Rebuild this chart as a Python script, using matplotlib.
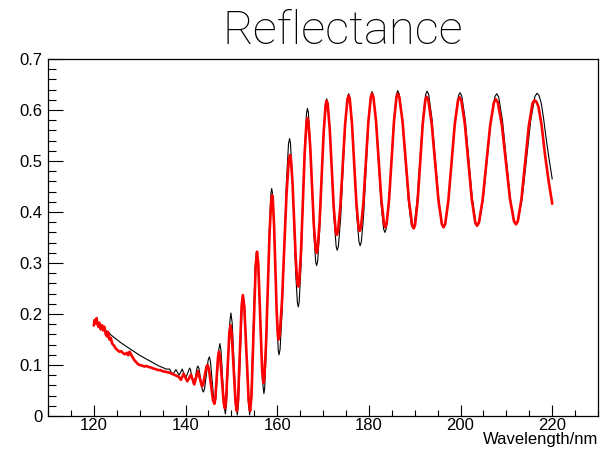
import matplotlib
matplotlib.use("Agg")
import matplotlib.pyplot as plt
from matplotlib.ticker import MultipleLocator

# ---- data ----
theory_wl = [
    120.0, 121.0, 122.0, 123.0, 124.0, 125.0, 126.0, 127.0, 128.0, 129.0,
    130.0, 131.0, 132.0, 133.0, 134.0, 135.0, 135.8,
    136.5, 136.85, 137.2, 137.55, 137.9, 138.25, 138.6, 138.95, 139.3, 139.65,
    140.0, 140.45, 140.9, 141.08, 141.35, 141.62, 141.8, 141.98, 142.25, 142.52,
    142.7, 142.94, 143.3, 143.66, 143.9, 144.16, 144.55, 144.94,
    145.2, 145.44, 145.8, 146.16, 146.4, 146.62, 146.95, 147.28,
    147.5, 147.74, 148.1, 148.46, 148.7, 148.94, 149.3, 149.66,
    149.9, 150.18, 150.6, 151.02, 151.3, 151.56, 151.95, 152.34,
    152.6, 152.88, 153.3, 153.72, 154.0, 154.3, 154.75, 155.2,
    155.5, 155.82, 156.3, 156.78, 157.1,
    157.27, 157.61, 157.95, 158.29, 158.63, 158.8,
    158.96, 159.28, 159.6, 159.92, 160.24, 160.4,
    160.63, 161.09, 161.55, 162.01, 162.47, 162.7,
    162.89, 163.27, 163.65, 164.03, 164.41, 164.6,
    164.8, 165.2, 165.6, 166.0, 166.4, 166.6,
    166.8, 167.2, 167.6, 168.0, 168.4, 168.6,
    168.82, 169.26, 169.7, 170.14, 170.58, 170.8,
    171.03, 171.49, 171.95, 172.41, 172.87, 173.1,
    173.35, 173.85, 174.35, 174.85, 175.35, 175.6,
    175.85, 176.35, 176.85, 177.35, 177.85, 178.1,
    178.36, 178.88, 179.4, 179.92, 180.44, 180.7,
    180.98, 181.54, 182.1, 182.66, 183.22, 183.5,
    183.78, 184.34, 184.9, 185.46, 186.02, 186.3,
    186.63, 187.29, 187.95, 188.61, 189.27, 189.6,
    189.91, 190.53, 191.15, 191.77, 192.39, 192.7,
    193.06, 193.78, 194.5, 195.22, 195.94, 196.3,
    196.66, 197.38, 198.1, 198.82, 199.54, 199.9,
    200.28, 201.04, 201.8, 202.56, 203.32, 203.7,
    204.12, 204.96, 205.8, 206.64, 207.48, 207.9,
    208.32, 209.16, 210.0, 210.84, 211.68, 212.1,
    212.56, 213.48, 214.4, 215.32, 216.24, 216.7,
    217.1, 217.6, 218.1, 218.6, 219.3, 220.0,
]
theory_refl = [
    0.188, 0.180, 0.172, 0.165, 0.157, 0.150, 0.143, 0.137, 0.131, 0.125,
    0.119, 0.114, 0.109, 0.104, 0.099, 0.095, 0.092,
    0.092, 0.0865, 0.081, 0.086, 0.091, 0.0855, 0.080, 0.086, 0.092, 0.0825,
    0.073, 0.0835, 0.094, 0.0911, 0.079, 0.0669, 0.064, 0.0672, 0.081, 0.0948,
    0.098, 0.0932, 0.0725, 0.0518, 0.047, 0.0536, 0.0815, 0.1094,
    0.116, 0.1073, 0.070, 0.0327, 0.024, 0.0352, 0.083, 0.1308,
    0.142, 0.1289, 0.073, 0.0171, 0.004, 0.0228, 0.103, 0.1832,
    0.202, 0.183, 0.102, 0.021, 0.002, 0.0243, 0.1195, 0.2147,
    0.237, 0.2147, 0.1195, 0.0243, 0.002, 0.0325, 0.1625, 0.2925,
    0.323, 0.2965, 0.1835, 0.0705, 0.044,
    0.0538, 0.1268, 0.245, 0.3632, 0.4362, 0.446,
    0.438, 0.3788, 0.283, 0.1872, 0.128, 0.120,
    0.1304, 0.2073, 0.332, 0.4567, 0.5336, 0.544,
    0.5359, 0.476, 0.379, 0.282, 0.2221, 0.214,
    0.2235, 0.2941, 0.4085, 0.5229, 0.5935, 0.603,
    0.5955, 0.5396, 0.449, 0.3584, 0.3025, 0.295,
    0.303, 0.3624, 0.4585, 0.5546, 0.614, 0.622,
    0.6147, 0.5608, 0.4735, 0.3862, 0.3323, 0.325,
    0.3325, 0.3882, 0.4785, 0.5688, 0.6245, 0.632,
    0.6247, 0.5706, 0.483, 0.3954, 0.3413, 0.334,
    0.3414, 0.3962, 0.485, 0.5738, 0.6286, 0.636,
    0.6292, 0.5791, 0.498, 0.4169, 0.3668, 0.360,
    0.3668, 0.4173, 0.499, 0.5807, 0.6312, 0.638,
    0.6314, 0.5824, 0.503, 0.4236, 0.3746, 0.368,
    0.3746, 0.4234, 0.5025, 0.5816, 0.6304, 0.637,
    0.6305, 0.5822, 0.504, 0.4258, 0.3775, 0.371,
    0.3774, 0.4252, 0.5025, 0.5798, 0.6276, 0.634,
    0.6276, 0.5802, 0.5035, 0.4268, 0.3794, 0.373,
    0.3793, 0.4264, 0.5025, 0.5786, 0.6257, 0.632,
    0.6257, 0.5791, 0.5035, 0.4279, 0.3813, 0.375,
    0.3813, 0.4281, 0.504, 0.5799, 0.6267, 0.633,
    0.629, 0.614, 0.585, 0.550, 0.505, 0.465,
]

meas_wl = [
    120.0, 120.2, 120.4, 120.6, 120.8, 121.0, 121.2, 121.5, 121.8, 122.0,
    122.3, 122.6, 122.9, 123.1, 123.4, 123.7, 124.0, 124.4, 124.8, 125.2,
    125.6, 126.0, 126.4, 126.8, 127.2, 127.5, 127.8, 128.1, 128.4, 128.8,
    129.2, 129.6, 130.0, 130.5, 131.0, 131.5, 132.0, 132.5, 133.0, 133.5,
    134.0, 134.5, 135.0, 135.5, 136.0, 136.5, 137.0, 137.5, 138.0, 138.5,
    139.0, 139.3, 139.6, 140.0, 140.4, 140.8, 141.2, 141.55, 141.9, 142.3,
    142.7, 143.15, 143.6, 143.84, 144.2, 144.56,
    144.8, 145.1, 145.55, 146.0, 146.3, 146.5, 146.8, 147.1,
    147.3, 147.56, 147.95, 148.34, 148.6, 148.84, 149.2, 149.56,
    149.8, 150.08, 150.5, 150.92, 151.2, 151.46, 151.85, 152.24,
    152.5, 152.82, 153.3, 153.78, 154.1, 154.4, 154.85, 155.3,
    155.6, 155.88, 156.3, 156.72, 157.0,
    157.19, 157.57, 157.95, 158.33, 158.71, 158.9,
    159.04, 159.32, 159.6, 159.88, 160.16, 160.3,
    160.55, 161.05, 161.55, 162.05, 162.55, 162.8,
    162.98, 163.34, 163.7, 164.06, 164.42, 164.6,
    164.8, 165.2, 165.6, 166.0, 166.4, 166.6,
    166.8, 167.2, 167.6, 168.0, 168.4, 168.6,
    168.82, 169.26, 169.7, 170.14, 170.58, 170.8,
    171.02, 171.46, 171.9, 172.34, 172.78, 173.0,
    173.26, 173.78, 174.3, 174.82, 175.34, 175.6,
    175.84, 176.32, 176.8, 177.28, 177.76, 178.0,
    178.27, 178.81, 179.35, 179.89, 180.43, 180.7,
    180.99, 181.57, 182.15, 182.73, 183.31, 183.6,
    183.87, 184.41, 184.95, 185.49, 186.03, 186.3,
    186.65, 187.35, 188.05, 188.75, 189.45, 189.8,
    190.08, 190.64, 191.2, 191.76, 192.32, 192.6,
    192.97, 193.71, 194.45, 195.19, 195.93, 196.3,
    196.65, 197.35, 198.05, 198.75, 199.45, 199.8,
    200.18, 200.94, 201.7, 202.46, 203.22, 203.6,
    204.01, 204.83, 205.65, 206.47, 207.29, 207.7,
    208.14, 209.02, 209.9, 210.78, 211.66, 212.1,
    212.5, 213.3, 214.1, 214.9, 215.7, 216.1,
    216.5, 217.0, 217.7, 218.4, 219.2, 220.0,
]
meas_refl = [
    0.178, 0.188, 0.182, 0.192, 0.180, 0.175, 0.183, 0.170, 0.178, 0.168,
    0.175, 0.160, 0.156, 0.165, 0.150, 0.153, 0.142, 0.138, 0.132, 0.129,
    0.126, 0.127, 0.123, 0.121, 0.124, 0.119, 0.126, 0.121, 0.116, 0.110,
    0.106, 0.102, 0.100, 0.099, 0.097, 0.098, 0.096, 0.095, 0.093, 0.092,
    0.090, 0.090, 0.088, 0.087, 0.086, 0.085, 0.083, 0.081, 0.079, 0.077,
    0.071, 0.077, 0.083, 0.075, 0.068, 0.0745, 0.081, 0.0715, 0.062, 0.075,
    0.088, 0.073, 0.058, 0.062, 0.079, 0.096,
    0.100, 0.0928, 0.062, 0.0312, 0.024, 0.0337, 0.075, 0.1163,
    0.126, 0.1155, 0.0705, 0.0255, 0.015, 0.0305, 0.0965, 0.1625,
    0.178, 0.162, 0.094, 0.026, 0.010, 0.0316, 0.1235, 0.2154,
    0.237, 0.2154, 0.1235, 0.0316, 0.010, 0.0396, 0.166, 0.2924,
    0.322, 0.2976, 0.1935, 0.0894, 0.065,
    0.074, 0.1408, 0.249, 0.3572, 0.424, 0.433,
    0.4261, 0.3747, 0.2915, 0.2083, 0.1569, 0.150,
    0.1589, 0.2246, 0.331, 0.4374, 0.5031, 0.512,
    0.5057, 0.4589, 0.383, 0.3071, 0.2603, 0.254,
    0.2621, 0.322, 0.419, 0.516, 0.5759, 0.584,
    0.5775, 0.5296, 0.452, 0.3744, 0.3265, 0.320,
    0.3273, 0.3814, 0.469, 0.5566, 0.6107, 0.618,
    0.6116, 0.5638, 0.4865, 0.4092, 0.3614, 0.355,
    0.3617, 0.4112, 0.4915, 0.5718, 0.6213, 0.628,
    0.6215, 0.5734, 0.4955, 0.4176, 0.3695, 0.363,
    0.3696, 0.4184, 0.4975, 0.5766, 0.6254, 0.632,
    0.6256, 0.578, 0.501, 0.424, 0.3764, 0.370,
    0.3764, 0.424, 0.501, 0.578, 0.6256, 0.632,
    0.6255, 0.5776, 0.500, 0.4224, 0.3745, 0.368,
    0.3743, 0.4211, 0.497, 0.5729, 0.6197, 0.626,
    0.6197, 0.5733, 0.498, 0.4227, 0.3763, 0.370,
    0.3762, 0.4225, 0.4975, 0.5725, 0.6188, 0.625,
    0.6188, 0.5731, 0.499, 0.4249, 0.3792, 0.373,
    0.3791, 0.4241, 0.497, 0.5699, 0.6149, 0.621,
    0.615, 0.5705, 0.4985, 0.4265, 0.382, 0.376,
    0.382, 0.4261, 0.4975, 0.5689, 0.613, 0.619,
    0.617, 0.607, 0.570, 0.515, 0.462, 0.417,
]

title = "Reflectance"
xlabel = "Wavelength/nm"
xtick_vals = [120, 140, 160, 180, 200, 220]
ytick_vals = [0, 0.1, 0.2, 0.3, 0.4, 0.5, 0.6, 0.7]
ytick_labels = ['0', '0.1', '0.2', '0.3', '0.4', '0.5', '0.6', '0.7']

# ---- figure ----
plt.rcParams['font.family'] = ['Liberation Sans', 'DejaVu Sans']
fig = plt.figure(figsize=(6.0, 4.49), dpi=100)
ax = fig.add_axes([0.08, 0.0735, 0.9167, 0.795])

ax.plot(theory_wl, theory_refl, color='black', lw=0.8, zorder=2)
ax.plot(meas_wl, meas_refl, color='#ff0000', lw=1.9, zorder=3,
        solid_joinstyle='round')

ax.set_xlim(110, 230)
ax.set_ylim(0, 0.7)
ax.set_xticks(xtick_vals)
ax.set_xticklabels([str(v) for v in xtick_vals])
ax.xaxis.set_minor_locator(MultipleLocator(5))
ax.set_yticks(ytick_vals)
ax.set_yticklabels(ytick_labels)
ax.yaxis.set_minor_locator(MultipleLocator(0.02))

ax.tick_params(axis='x', which='major', direction='in', length=8, width=0.8,
               labelsize=12, pad=1.5, top=False)
ax.tick_params(axis='x', which='minor', direction='in', length=4, width=0.8, top=False)
ax.tick_params(axis='y', which='major', direction='in', length=11, width=0.8,
               labelsize=12, pad=4, right=False)
ax.tick_params(axis='y', which='minor', direction='in', length=6, width=0.8, right=False)
for s in ax.spines.values():
    s.set_linewidth(0.9)

fig.text(0.997, 0.004, xlabel, ha='right', va='bottom', fontsize=12)
fig.text(0.571, 0.932, title, ha='center', va='center', fontsize=34,
         family=['Roboto', 'Liberation Sans'], fontweight='light')

fig.savefig("out.png", dpi=100)
